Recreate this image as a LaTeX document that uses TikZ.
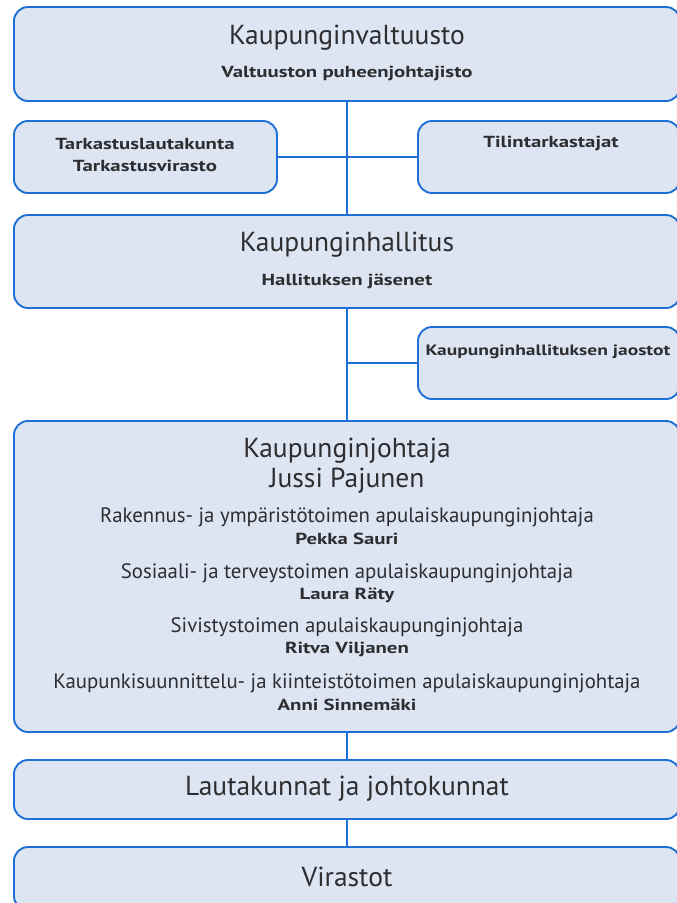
\documentclass[tikz,border=0pt]{standalone}
\usepackage{fontspec}
\setmainfont{PT Sans}
\newfontfamily\whofont[FakeStretch=1.3]{PT Sans Bold}
\definecolor{cbox}{RGB}{220,229,241}
\definecolor{cline}{RGB}{30,112,214}
\definecolor{ctext}{RGB}{45,45,50}

\begin{document}
\begin{tikzpicture}[x=1pt,y=-1pt,
  ttl/.style={font=\fontsize{27.5}{30}\selectfont},
  duty/.style={font=\fontsize{20.8}{22}\selectfont},
  who/.style={font=\whofont\fontsize{16}{22}\selectfont}]

\useasboundingbox (0,0) rectangle (677,903);

% boxes
\begin{scope}[every node/.style={draw=cline,fill=cbox,line width=1.9pt,rounded corners=14pt,inner sep=0pt}]
\node[minimum width=666pt,minimum height=94pt] (valt) at (347,54) {};
\node[minimum width=263pt,minimum height=72pt] (tark) at (145.5,157) {};
\node[minimum width=262pt,minimum height=72pt] (tilin) at (549,157) {};
\node[minimum width=666pt,minimum height=93pt] (khall) at (347,261.5) {};
\node[minimum width=262pt,minimum height=72pt] (jaos) at (549,363) {};
\node[minimum width=666pt,minimum height=311pt] (kjoht) at (347,576.5) {};
\node[minimum width=666pt,minimum height=59pt] (lauta) at (347,789.5) {};
\node[minimum width=666pt,minimum height=63pt] (viras) at (347,878.5) {};
\end{scope}

% connectors
\begin{scope}[line width=2.8pt,color=cline]
\draw[-] (valt.south) to (khall.north);
\draw[-] (tark.east) to (tilin.west);
\draw[-] (khall.south) to (kjoht.north);
\draw[-] (jaos.west) to (jaos.west -| khall.south);
\draw[-] (kjoht.south) to (lauta.north);
\draw[-] (lauta.south) to (viras.north);
\end{scope}

% texts
\begin{scope}[every node/.style={text=ctext,inner sep=0pt,align=center}]
\node[ttl] (tvalt) at (347,38) {Kaupunginvaltuusto};
\node[who] (pj) at (347,73) {Valtuuston puheenjohtajisto};
\node[who] (ttark) at (145,155) {Tarkastuslautakunta\\Tarkastusvirasto};
\node[who] (ttilin) at (551,143) {Tilintarkastajat};
\node[ttl] (tkhall) at (347,245) {Kaupunginhallitus};
\node[who] (jas) at (347,281) {Hallituksen jäsenet};
\node[who,font=\whofont\fontsize{15}{22}\selectfont] (tjaos) at (548,352) {Kaupunginhallituksen jaostot};
\node[ttl] (tkjoht) at (347,451) {Kaupunginjohtaja};
\node[ttl] (jp) at (347,481) {Jussi Pajunen};
\node[duty] (d1) at (347,517) {Rakennus- ja ympäristötoimen apulaiskaupunginjohtaja};
\node[who] (w1) at (347,539) {Pekka Sauri};
\node[duty] (d2) at (347,573) {Sosiaali- ja terveystoimen apulaiskaupunginjohtaja};
\node[who] (w2) at (347,595) {Laura Räty};
\node[duty] (d3) at (347,627) {Sivistystoimen apulaiskaupunginjohtaja};
\node[who] (w3) at (347,649) {Ritva Viljanen};
\node[duty] (d4) at (347,683) {Kaupunkisuunnittelu- ja kiinteistötoimen apulaiskaupunginjohtaja};
\node[who] (w4) at (347,705) {Anni Sinnemäki};
\node[ttl] (tlauta) at (347,789) {Lautakunnat ja johtokunnat};
\node[ttl] (tviras) at (347,877) {Virastot};
\end{scope}

\end{tikzpicture}
\end{document}
